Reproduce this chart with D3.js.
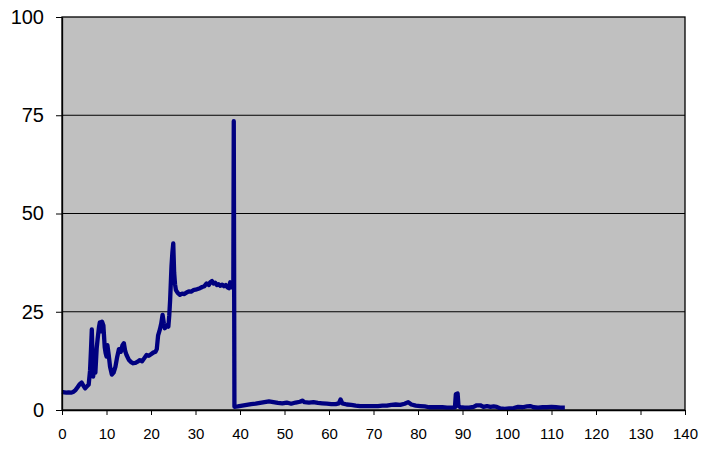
<!DOCTYPE html>
<html><head><meta charset="utf-8">
<script src="https://cdn.jsdelivr.net/npm/d3@7"></script>
<style>html,body{margin:0;padding:0;background:#fff;}</style>
</head><body>
<svg id="c" width="706" height="459"></svg>
<script>
const xVals = [0,0.5,1,1.5,2,2.5,3,3.5,4,4.4,4.8,5.2,5.6,6.0,6.3,6.5,6.7,6.9,7.0,7.3,7.5,7.8,8.0,8.3,8.5,8.8,9.0,9.3,9.6,9.8,10.0,10.2,10.5,10.8,11.2,11.6,12.0,12.4,12.8,13.2,13.6,13.9,14.2,14.5,15,15.5,16,16.5,17,17.5,18,18.5,19,19.5,20,20.5,21,21.3,21.6,22,22.3,22.6,22.9,23.1,23.5,23.9,24.1,24.3,24.6,24.8,25.0,25.2,25.4,25.6,26,26.5,27,27.5,28,28.5,29,29.5,30,30.5,31,31.5,32,32.5,33,33.3,33.7,34,34.4,34.8,35.2,35.6,36,36.4,36.8,37.2,37.5,37.8,38.1,38.5,38.6,38.75,39.5,40.5,41.5,42.5,43.5,44.5,45.5,46.5,47.5,48.5,49.5,50.5,51.5,52.5,53.5,54,54.5,55.5,56.5,57.5,58.5,59.5,60.5,61.5,62.2,62.6,63.0,64,65,66,67,68,69,70,71,72,73,74,75,76,77,77.8,78.5,79.5,80.5,81.5,82.5,83.5,84.5,85.5,86.5,87.5,88.3,88.5,88.9,89.1,89.5,90.5,91.5,92.5,93.2,94,94.7,95.5,96.3,97,97.7,98.5,99.5,100.5,101.5,102.5,103.5,104.5,105.2,106,107,108,109,110,111,112,113];
const yVals = [4.6,4.5,4.4,4.5,4.4,4.6,5.0,5.8,6.6,7.0,6.2,5.5,6.0,6.5,10,15,20.5,12,8.5,12,9.5,15.8,18,21,22.3,20,22.5,21.5,16,14.5,13.6,16.5,14,11,9.0,9.5,11,13.5,15.5,14.8,16.5,17,15,14,12.8,12.2,11.9,12.0,12.3,12.7,12.4,13.2,14,13.8,14.2,14.6,14.8,15.5,19,20.5,22,24.2,22,20.8,21.5,21.2,24,28,36.5,40,42.4,35,32,30.5,29.8,29.3,29.6,29.5,29.9,30.2,30.1,30.5,30.6,30.8,31,31.3,31.5,32.2,31.8,32.5,32.8,32.2,32.4,31.8,32,31.6,31.9,31.5,31.8,31.2,31.0,32.5,31.2,31.5,73.5,0.8,0.9,1.1,1.3,1.5,1.6,1.8,2.0,2.2,2.0,1.8,1.7,1.9,1.6,1.9,2.1,2.4,2.0,1.9,2.0,1.8,1.7,1.6,1.5,1.5,1.7,2.7,1.7,1.4,1.3,1.1,1.0,1.0,1.0,1.0,1.0,1.1,1.1,1.3,1.4,1.3,1.6,2.0,1.4,1.1,1.0,0.9,0.7,0.7,0.7,0.7,0.6,0.6,0.7,4.0,4.2,1.0,0.7,0.6,0.6,0.8,1.2,1.2,0.8,1.0,0.8,0.9,0.8,0.4,0.3,0.4,0.5,0.8,0.7,0.9,1.0,0.7,0.6,0.7,0.7,0.8,0.7,0.6,0.6];
const xTicks = [0,10,20,30,40,50,60,70,80,90,100,110,120,130,140];
const yTicks = [0,25,50,75,100];

const svg = d3.select("#c");
const L = 62, R = 685, T = 17, B = 410;
const x = d3.scaleLinear().domain([0,140]).range([L,R]);
const y = d3.scaleLinear().domain([0,100]).range([B,T]);

svg.append("rect").attr("x",L).attr("y",T).attr("width",R-L).attr("height",B-T)
  .attr("fill","#c0c0c0").attr("stroke","#000").attr("stroke-width",1.3);

svg.append("g").selectAll("line").data(yTicks.filter(d=>d>0&&d<100)).join("line")
  .attr("x1",L).attr("x2",R).attr("y1",d=>y(d)).attr("y2",d=>y(d))
  .attr("stroke","#000").attr("stroke-width",1);

const data = xVals.map((v,i)=>[v,yVals[i]]);
svg.append("path").datum(data)
  .attr("d", d3.line().x(d=>x(d[0])).y(d=>y(d[1])))
  .attr("fill","none").attr("stroke","#000080").attr("stroke-width",4.3)
  .attr("stroke-linejoin","round");

const ya = svg.append("g").attr("transform",`translate(${L},0)`)
  .call(d3.axisLeft(y).tickValues(yTicks).tickSize(6).tickPadding(12).tickSizeOuter(0));
ya.select(".domain").attr("stroke","#000").attr("stroke-width",1.3);
ya.selectAll("text").attr("font-family","Liberation Sans, Arial, sans-serif").attr("font-size",20).attr("fill","#000");

const xa = svg.append("g").attr("transform",`translate(0,${B})`)
  .call(d3.axisBottom(x).tickValues(xTicks).tickSize(5).tickPadding(13).tickSizeOuter(0));
xa.select(".domain").attr("stroke","#000").attr("stroke-width",1.3);
xa.selectAll("text").attr("font-family","Liberation Sans, Arial, sans-serif").attr("font-size",15).attr("fill","#000");
</script>
</body></html>
